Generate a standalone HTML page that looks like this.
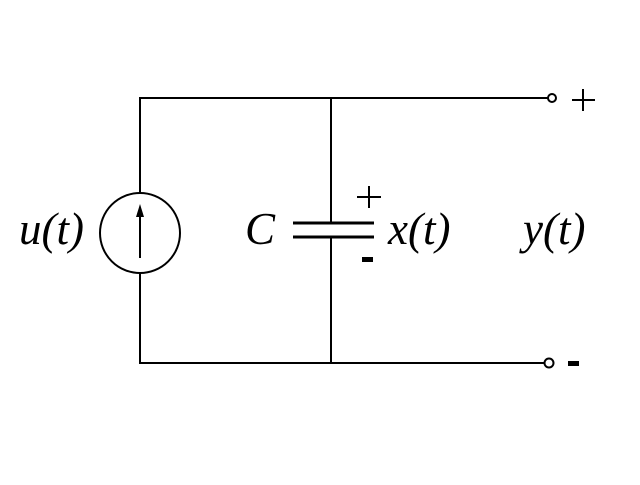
<!DOCTYPE html>
<html><head><style>body{margin:0;background:#fff}</style></head><body>
<svg width="640" height="480" viewBox="0 0 640 480" xmlns="http://www.w3.org/2000/svg">
<g stroke="#000" stroke-width="2" fill="none">
<polyline points="548,98 140,98 140,193"/>
<polyline points="140,273 140,363 545,363"/>
<line x1="331" y1="98" x2="331" y2="223"/>
<line x1="331" y1="237" x2="331" y2="363"/>
<line x1="293" y1="223" x2="374" y2="223" stroke-width="3"/>
<line x1="293" y1="237" x2="374" y2="237" stroke-width="3"/>
<circle cx="140" cy="233" r="40"/>
<line x1="140" y1="258" x2="140" y2="215"/>
<circle cx="552" cy="98" r="4"/>
<circle cx="549" cy="363" r="4.5"/>
<line x1="357" y1="197" x2="381" y2="197"/>
<line x1="369" y1="186" x2="369" y2="208"/>
<line x1="572" y1="100" x2="595" y2="100"/>
<line x1="583" y1="89" x2="583" y2="111"/>
</g>
<polygon points="140,204 136,217 144,217" fill="#000"/>
<g font-family="Liberation Serif, serif" font-style="italic" font-size="45" fill="#000">
<text x="19" y="244">u(t)</text>
<text x="245" y="244">C</text>
<text x="388" y="244">x(t)</text>
<text x="523" y="244">y(t)</text>
</g>
<rect x="362" y="257" width="11" height="5" fill="#000"/>
<rect x="568" y="361" width="11" height="5" fill="#000"/>
</svg>
</body></html>
